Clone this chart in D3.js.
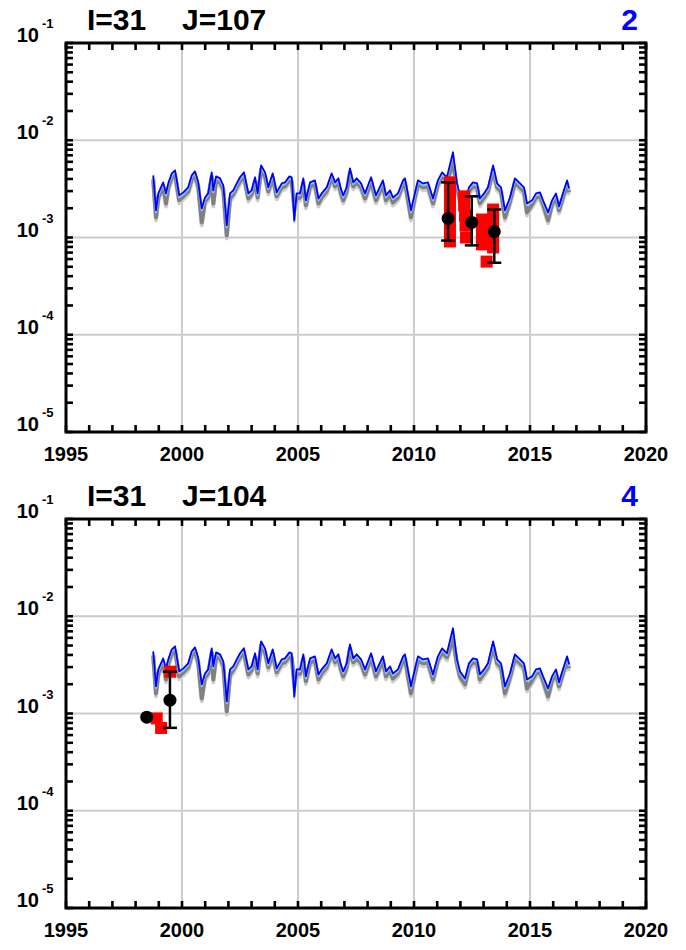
<!DOCTYPE html>
<html><head><meta charset="utf-8">
<script src="https://cdn.jsdelivr.net/npm/d3@7"></script>
<style>
body{margin:0;background:#fff}
svg{display:block}
text{font-family:"Liberation Sans",Arial,Helvetica,sans-serif;font-weight:bold}
</style>
</head><body>
<svg id="chart" width="686" height="950"></svg>
<script>
// ---- model time series (decimal year), values in units of 1e-3 ----
const modelDates = [1998.76,1998.88,1998.98,1999.19,1999.31,1999.41,1999.56,1999.70,1999.88,2000.06,
2000.27,2000.42,2000.56,2000.70,2000.85,2000.99,2001.13,2001.28,2001.35,2001.47,
2001.64,2001.78,2001.93,2002.07,2002.21,2002.36,2002.50,2002.67,2002.86,2003.00,
2003.15,2003.26,2003.41,2003.58,2003.72,2003.91,2004.08,2004.30,2004.44,2004.63,
2004.73,2004.84,2004.94,2005.09,2005.23,2005.34,2005.52,2005.73,2005.88,2006.02,
2006.24,2006.45,2006.60,2006.74,2006.84,2006.95,2007.10,2007.24,2007.38,2007.53,
2007.72,2007.89,2008.15,2008.36,2008.66,2008.79,2008.97,2009.09,2009.31,2009.53,
2009.61,2009.87,2010.04,2010.17,2010.39,2010.60,2010.82,2011.03,2011.21,2011.42,
2011.68,2011.85,2011.98,2012.20,2012.37,2012.54,2012.72,2012.84,2013.02,2013.19,
2013.41,2013.58,2013.75,2013.92,2014.14,2014.35,2014.57,2014.74,2014.87,2015.09,
2015.26,2015.43,2015.56,2015.78,2015.95,2016.12,2016.25,2016.42,2016.60,2016.68];

const modelBlue = [4.36,1.90,2.84,3.69,2.84,3.60,4.57,4.91,2.71,2.91,
3.28,4.36,4.79,3.69,1.99,2.58,2.84,4.68,3.05,4.25,
4.06,3.44,1.33,2.84,3.05,3.60,4.16,4.68,2.84,3.05,
4.16,2.84,5.52,4.68,3.28,4.57,2.91,3.60,3.69,4.25,
4.16,1.50,2.84,2.84,4.06,2.41,3.69,3.87,2.52,2.84,
3.28,4.57,3.69,4.06,3.20,2.71,3.28,5.14,3.69,4.06,
3.60,2.84,4.16,2.71,3.87,2.71,3.05,2.58,2.84,3.87,
4.06,1.90,2.84,3.87,3.60,3.69,2.52,3.87,4.68,4.16,
7.52,3.60,2.71,2.29,3.28,3.69,3.60,2.52,2.84,3.28,
5.52,3.60,3.28,1.90,2.58,4.06,3.60,3.28,2.24,2.41,
2.84,2.91,2.41,1.81,2.41,2.84,2.09,2.84,3.87,3.20];

const modelGray = [3.96,1.61,2.58,3.36,2.24,3.28,4.16,4.46,2.41,2.65,
2.98,3.96,4.36,3.36,1.43,2.35,2.58,4.25,2.24,3.87,
3.69,3.13,1.05,2.52,2.78,3.28,3.78,4.25,2.52,2.78,
3.78,2.58,5.02,4.25,2.98,4.16,2.65,3.28,3.36,3.87,
3.78,2.04,2.52,2.58,3.69,2.14,3.36,3.52,2.24,2.58,
2.98,4.16,3.36,3.69,2.91,2.41,2.98,4.68,3.36,3.69,
3.28,2.52,3.78,2.41,3.52,2.41,2.78,2.29,2.58,3.52,
3.69,1.61,2.58,3.52,3.28,3.36,2.24,3.52,4.25,3.78,
5.93,3.28,2.41,1.99,2.98,3.36,3.28,2.24,2.58,2.98,
4.91,3.28,2.98,1.61,2.35,3.69,3.28,2.98,1.81,2.19,
2.58,2.65,2.19,1.50,2.19,2.58,1.90,2.58,3.52,2.91];

// ---- observations, panel 1 (I=31 J=107) ----
const p1DotYears = [2011.47, 2012.49, 2013.46];
const p1DotVals  = [1.57, 1.43, 1.15];
const p1ErrLo    = [0.93, 0.83, 0.55];
const p1ErrHi    = [3.69, 2.65, 1.94];
const p1SqYears  = [2011.55,2011.55,2011.55,2011.55,2011.55,2011.55,2011.55,
                    2012.16,2012.16,2012.20,2012.22,2012.24,
                    2012.93,2012.93,2012.93,2012.93,
                    2013.41,2013.41,2013.41,2013.41,2013.41,
                    2013.13];
const p1SqVals   = [3.69,3.05,2.41,1.90,1.50,1.18,0.91,
                    2.65,2.14,1.69,1.33,1.00,
                    1.53,1.21,0.93,0.85,
                    1.94,1.53,1.21,0.98,0.79,
                    0.565];

// ---- observations, panel 2 (I=31 J=104) ----
const p2DotYears = [1998.48, 1999.48];
const p2DotVals  = [0.916, 1.37];
const p2ErrLo    = [null, 0.712];
const p2ErrHi    = [null, 2.69];
const p2SqYears  = [1998.91, 1999.10, 1999.50];
const p2SqVals   = [0.89, 0.71, 2.69];

// ---- axes ----
const xTickYears  = [1995,1996,1997,1998,1999,2000,2001,2002,2003,2004,2005,2006,2007,
                     2008,2009,2010,2011,2012,2013,2014,2015,2016,2017,2018,2019,2020];
const xLabelYears = [1995, 2000, 2005, 2010, 2015, 2020];
const xGridYears  = [2000, 2005, 2010, 2015];
const yDecadeExps = [-5, -4, -3, -2, -1];
const yMinorMults = [1, 2, 3, 4, 5, 6, 7, 8, 9];
const yGridExps   = [-4, -3, -2];
const panelTitleI = ["I=31", "I=31"];
const panelTitleJ = ["J=107", "J=104"];
const panelNumber = ["2", "4"];

const UNIT = 1e-3;
const svg = d3.select("#chart");
const L = 66, R = 646;
const panelTops = [43, 519], panelBottoms = [432, 908];

const obs = [
  {dy:p1DotYears, dv:p1DotVals, lo:p1ErrLo, hi:p1ErrHi, sy:p1SqYears, sv:p1SqVals},
  {dy:p2DotYears, dv:p2DotVals, lo:p2ErrLo, hi:p2ErrHi, sy:p2SqYears, sv:p2SqVals}
];

// y tick values: 1..9 x 10^e for each decade, plus 10^-1
const yTickVals = [];
yDecadeExps.slice(0, 4).forEach(e => yMinorMults.forEach(m => yTickVals.push(m * Math.pow(10, e))));
yTickVals.push(Math.pow(10, -1));

panelTops.forEach((T, pi) => {
  const B = panelBottoms[pi];
  const x = d3.scaleLinear().domain([1995, 2020]).range([L, R]);
  const y = d3.scaleLog().domain([1e-5, 1e-1]).range([B, T]);
  const g = svg.append("g");

  // grid
  g.selectAll("line.gx").data(xGridYears).join("line").attr("class", "gx")
    .attr("x1", d => x(d)).attr("x2", d => x(d)).attr("y1", T).attr("y2", B)
    .attr("stroke", "#cccccc").attr("stroke-width", 2);
  g.selectAll("line.gy").data(yGridExps).join("line").attr("class", "gy")
    .attr("x1", L).attr("x2", R).attr("y1", d => y(Math.pow(10, d))).attr("y2", d => y(Math.pow(10, d)))
    .attr("stroke", "#cccccc").attr("stroke-width", 2);

  // model lines
  const pts = (arr) => modelDates.map((d, i) => [d, arr[i] * UNIT]);
  const line = d3.line().x(d => x(d[0])).y(d => y(d[1]));
  g.append("path").datum(pts(modelGray)).attr("d", line)
    .attr("fill", "none").attr("stroke", "#cfcfcf").attr("stroke-width", 4)
    .attr("stroke-linejoin", "round").attr("transform", "translate(0,3)");
  g.append("path").datum(pts(modelGray)).attr("d", line)
    .attr("fill", "none").attr("stroke", "#808080").attr("stroke-width", 4)
    .attr("stroke-linejoin", "round");
  g.append("path").datum(pts(modelBlue)).attr("d", line)
    .attr("fill", "none").attr("stroke", "#8ccff5").attr("stroke-width", 2)
    .attr("stroke-linejoin", "round").attr("transform", "translate(0,1.8)");
  g.append("path").datum(pts(modelBlue)).attr("d", line)
    .attr("fill", "none").attr("stroke", "#0000ff").attr("stroke-width", 1.8)
    .attr("stroke-linejoin", "round");

  // observations
  const o = obs[pi];
  const sq = 12;
  g.selectAll("rect.sq").data(o.sy.map((d, i) => [d, o.sv[i] * UNIT])).join("rect").attr("class", "sq")
    .attr("x", d => x(d[0]) - sq / 2).attr("y", d => y(d[1]) - sq / 2)
    .attr("width", sq).attr("height", sq).attr("fill", "#ff0000");
  const eb = o.dy.map((d, i) => ({t: d, v: o.dv[i] * UNIT, lo: o.lo[i], hi: o.hi[i]}));
  const ebs = eb.filter(d => d.lo !== null);
  const cap = 7;
  g.selectAll("line.ev").data(ebs).join("line").attr("class", "ev")
    .attr("x1", d => x(d.t)).attr("x2", d => x(d.t))
    .attr("y1", d => y(d.lo * UNIT)).attr("y2", d => y(d.hi * UNIT))
    .attr("stroke", "#000").attr("stroke-width", 2.5);
  ["lo", "hi"].forEach(k => {
    g.selectAll("line.cap" + k).data(ebs).join("line").attr("class", "cap" + k)
      .attr("x1", d => x(d.t) - cap).attr("x2", d => x(d.t) + cap)
      .attr("y1", d => y(d[k] * UNIT)).attr("y2", d => y(d[k] * UNIT))
      .attr("stroke", "#000").attr("stroke-width", 2.5);
  });
  g.selectAll("circle.dot").data(eb).join("circle").attr("class", "dot")
    .attr("cx", d => x(d.t)).attr("cy", d => y(d.v)).attr("r", 6.5).attr("fill", "#000");

  // frame
  g.append("rect").attr("x", L).attr("y", T).attr("width", R - L).attr("height", B - T)
    .attr("fill", "none").attr("stroke", "#000").attr("stroke-width", 3);

  // ticks (inward), as small filled rects placed by the scales
  const tk = 7, tw = 2.6;
  g.selectAll("rect.xb").data(xTickYears).join("rect").attr("class", "xb")
    .attr("x", d => x(d) - tw / 2).attr("y", B - tk).attr("width", tw).attr("height", tk).attr("fill", "#000");
  g.selectAll("rect.xt").data(xTickYears).join("rect").attr("class", "xt")
    .attr("x", d => x(d) - tw / 2).attr("y", T).attr("width", tw).attr("height", tk).attr("fill", "#000");
  g.selectAll("rect.yl").data(yTickVals).join("rect").attr("class", "yl")
    .attr("x", L).attr("y", d => y(d) - tw / 2).attr("width", tk).attr("height", tw).attr("fill", "#000");
  g.selectAll("rect.yr").data(yTickVals).join("rect").attr("class", "yr")
    .attr("x", R - tk).attr("y", d => y(d) - tw / 2).attr("width", tk).attr("height", tw).attr("fill", "#000");

  // x labels
  g.selectAll("text.xl").data(xLabelYears).join("text").attr("class", "xl")
    .attr("x", d => x(d)).attr("y", B + 29).attr("text-anchor", "middle")
    .attr("font-size", 20).attr("fill", "#000").text(d => d);

  // y labels
  g.selectAll("text.yl10").data(yDecadeExps).join("text").attr("class", "yl10")
    .attr("x", 39).attr("y", d => y(Math.pow(10, d)) - 1).attr("text-anchor", "end")
    .attr("font-size", 20).attr("fill", "#000").text("10");
  g.selectAll("text.ylexp").data(yDecadeExps).join("text").attr("class", "ylexp")
    .attr("x", 42).attr("y", d => y(Math.pow(10, d)) - 15).attr("text-anchor", "start")
    .attr("font-size", 13).attr("fill", "#000").text(d => String(d));

  // titles
  g.append("text").attr("x", 87).attr("y", T - 13).attr("font-size", 30).attr("fill", "#000").text(panelTitleI[pi]);
  g.append("text").attr("x", 182).attr("y", T - 13).attr("font-size", 30).attr("fill", "#000").text(panelTitleJ[pi]);
  g.append("text").attr("x", 638).attr("y", T - 13).attr("text-anchor", "end")
    .attr("font-size", 30).attr("fill", "#0000ff").text(panelNumber[pi]);
});
</script>
</body></html>
